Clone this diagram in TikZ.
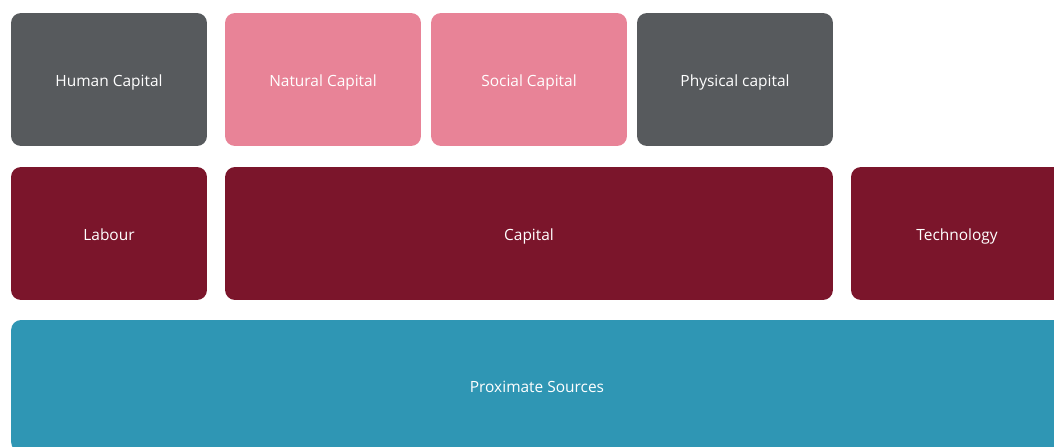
\documentclass[tikz,border=0pt]{standalone}
\usepackage{fontspec}
\setmainfont{Open Sans}
\usepackage{xcolor}
\usepackage{tikz}
\usetikzlibrary{positioning}

\definecolor{capgray}{HTML}{575A5D}
\definecolor{cappink}{HTML}{E88397}
\definecolor{capred}{HTML}{7B152B}
\definecolor{capteal}{HTML}{2F96B4}

\begin{document}
\begin{tikzpicture}[x=0.02cm, y=-0.02cm,
    every node/.style={font=\fontsize{8.8}{10}\selectfont, text=white},
    tile/.style={rounded corners=0.2cm, inner sep=0pt, minimum height=2.66cm,
        text height=0.85em, text depth=0.1em}]
    \useasboundingbox (0,0) rectangle (1054,446);
    \clip (0,0) rectangle (1054,446);

    % Forms of capital
    \node[tile, fill=capgray, minimum width=3.92cm] (human) at (109,79.5) {Human Capital};
    \node[tile, fill=cappink, minimum width=3.92cm] (natural) at (323,79.5) {Natural Capital};
    \node[tile, fill=cappink, minimum width=3.92cm] (social) at (529,79.5) {Social Capital};
    \node[tile, fill=capgray, minimum width=3.92cm] (physical) at (735,79.5) {Physical capital};

    % Factors of production
    \node[tile, fill=capred, minimum width=3.92cm] (labour) at (109,233.5) {Labour};
    \node[tile, fill=capred, minimum width=12.16cm] (capital) at (529,233.5) {Capital};
    \node[tile, fill=capred, minimum width=4.24cm] (tech) at (957,233.5) {Technology};

    % Base layer
    \node[tile, fill=capteal, minimum width=21.04cm, minimum height=2.64cm]
        (proximate) at (537,386) {Proximate Sources};
\end{tikzpicture}
\end{document}
